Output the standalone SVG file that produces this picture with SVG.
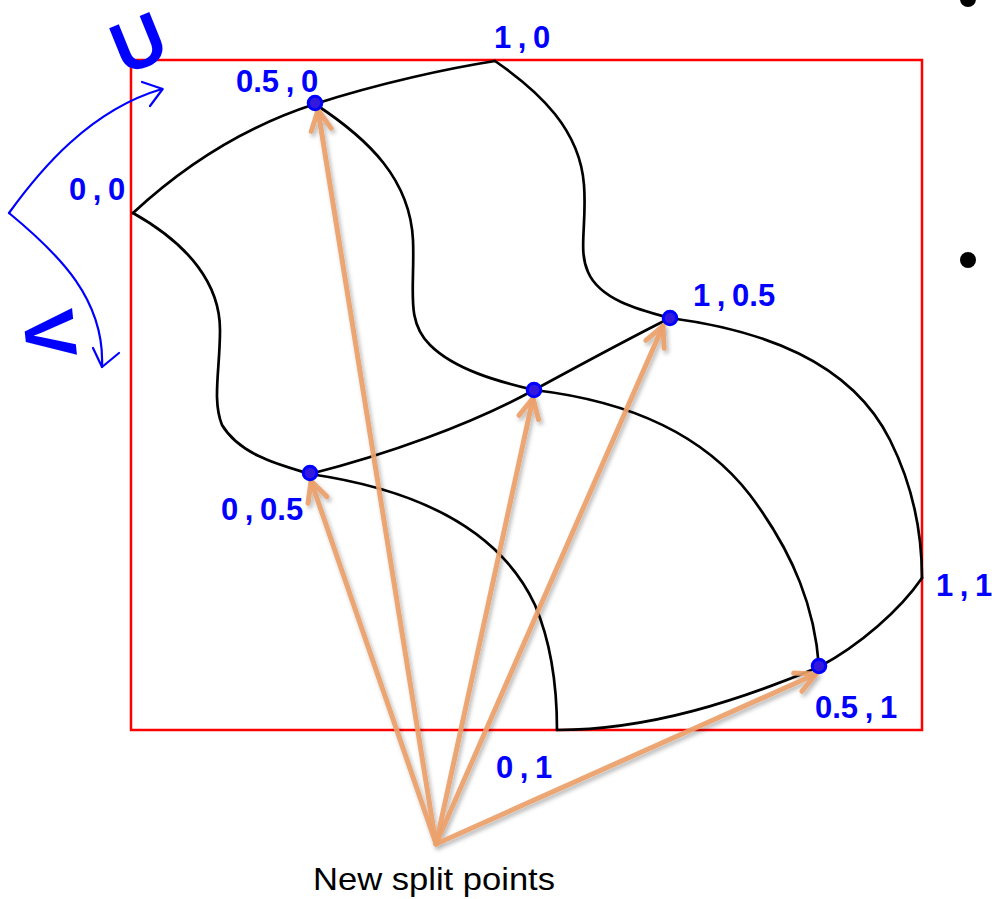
<svg xmlns="http://www.w3.org/2000/svg" width="992" height="899" viewBox="0 0 992 899">
<style>
.mesh{fill:none;stroke:#000;stroke-width:2.7;stroke-linecap:round}
.lbl{font-family:"Liberation Sans",Arial,sans-serif;font-weight:bold;font-size:31px;fill:#0000ff;word-spacing:-2px}
.dot{fill:#3318dd;stroke:#0000ff;stroke-width:3}
.axis{fill:none;stroke:#0000ff;stroke-width:2.2;stroke-linecap:round;stroke-linejoin:round}
.big{font-family:"Liberation Sans",Arial,sans-serif;font-weight:bold;font-size:72px;fill:#0000ff;text-anchor:middle}
.arrow{fill:none;stroke:#eca16a;stroke-opacity:0.92;stroke-width:5;stroke-linecap:round;marker-end:url(#head)}
.bullet{fill:#000}
</style>
<defs>
<marker id="head" markerUnits="userSpaceOnUse" markerWidth="40" markerHeight="40" viewBox="-30 -20 40 40" refX="0" refY="0" orient="auto">
<path d="M-20,-10 L0,0 L-20,10" fill="none" stroke="#eca16a" stroke-opacity="0.92" stroke-width="5" stroke-linecap="round" stroke-linejoin="round"/>
</marker>
<filter id="shadow" x="-10%" y="-10%" width="120%" height="120%">
<feDropShadow dx="2" dy="3" stdDeviation="2" flood-color="#000" flood-opacity="0.3"/>
</filter>
</defs>
<rect width="992" height="899" fill="#fff"/>

<g id="bullets">
<circle class="bullet" cx="968" cy="-1" r="8"/>
<circle class="bullet" cx="968" cy="260" r="8"/>
</g>

<g id="frame">
<rect x="131" y="60" width="791" height="670" fill="none" stroke="#ff0000" stroke-width="2.5"/>
</g>

<g id="uv-axes">
<path class="axis" d="M9,213 C40,170 90,110 162,89"/>
<polyline class="axis" points="142,82 162.7,89 150,106"/>
<path class="axis" d="M9,213 C60,255 105,300 102,367"/>
<polyline class="axis" points="93,348 102,367 119,353"/>
<text class="big" transform="translate(138,42) rotate(-22)" y="26">U</text>
<text class="big" transform="translate(51,334) rotate(84)" y="26">V</text>
</g>

<g id="mesh">
<path class="mesh" d="M133,213 C190,160 250,125 315,104 C380,83 450,68 495,61"/>
<path class="mesh" d="M310,474 C385,455 470,425 534,390 C580,365 630,338 670,318"/>
<path class="mesh" d="M557,730 C650,730 740,700 819,667 C860,645 900,610 922,578"/>
<path class="mesh" d="M133,213 C190,245 220,285 220,330 C220,370 212,400 222,425 C240,455 280,465 310,474 C420,490 500,530 535,605 C552,645 557,690 557,730"/>
<path class="mesh" d="M315,104 C370,140 410,180 413,240 C415,290 405,320 430,345 C455,370 500,382 534,390 C620,400 700,430 750,495 C795,555 815,610 819,667"/>
<path class="mesh" d="M495,61 C540,92 580,130 584,185 C587,225 578,250 588,272 C600,300 640,310 670,318 C760,330 850,360 890,440 C915,490 922,540 922,578"/>
</g>

<g id="connectors" filter="url(#shadow)">
<path class="arrow" d="M436,844 L318,110"/>
<path class="arrow" d="M436,844 L311,481"/>
<path class="arrow" d="M436,844 L533,398"/>
<path class="arrow" d="M436,844 L663,326"/>
<path class="arrow" d="M436,844 L816,674"/>
</g>

<g id="node-0-0"><text class="lbl" x="69" y="200">0 , 0</text></g>
<g id="node-1-0"><text class="lbl" x="494" y="48">1 , 0</text></g>
<g id="node-05-0"><circle class="dot" cx="315" cy="103" r="6.8"/><text class="lbl" x="236" y="92">0.5 , 0</text></g>
<g id="node-0-05"><circle class="dot" cx="310" cy="473" r="6.8"/><text class="lbl" x="221" y="520">0 , 0.5</text></g>
<g id="node-05-05"><circle class="dot" cx="534" cy="390" r="6.8"/></g>
<g id="node-1-05"><circle class="dot" cx="670" cy="318" r="6.8"/><text class="lbl" x="693" y="306">1 , 0.5</text></g>
<g id="node-0-1"><text class="lbl" x="496" y="778">0 , 1</text></g>
<g id="node-05-1"><circle class="dot" cx="819" cy="666" r="6.8"/><text class="lbl" x="815" y="718">0.5 , 1</text></g>
<g id="node-1-1"><text class="lbl" x="936" y="596">1 , 1</text></g>

<g id="caption"><text x="313" y="890" font-family="'Liberation Sans',Arial,sans-serif" font-size="32" fill="#000" textLength="242" lengthAdjust="spacingAndGlyphs">New split points</text></g>
</svg>
